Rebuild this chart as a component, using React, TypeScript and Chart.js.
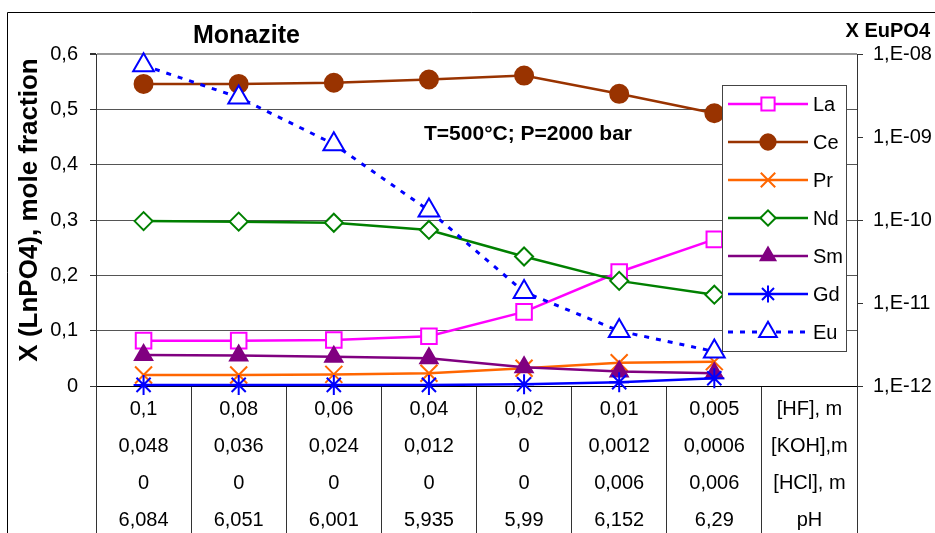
import React, { useEffect, useRef } from "react";
import { Chart, registerables } from "chart.js";
import { drawPoint } from "chart.js/helpers";

Chart.register(...registerables);

// ---- data ----
const hfRow = ["0,1", "0,08", "0,06", "0,04", "0,02", "0,01", "0,005", "[HF], m"];
const kohRow = ["0,048", "0,036", "0,024", "0,012", "0", "0,0012", "0,0006", "[KOH],m"];
const hclRow = ["0", "0", "0", "0", "0", "0,006", "0,006", "[HCl], m"];
const phRow = ["6,084", "6,051", "6,001", "5,935", "5,99", "6,152", "6,29", "pH"];

const laValues = [0.082, 0.082, 0.083, 0.09, 0.134, 0.206, 0.265];
const ceValues = [0.546, 0.546, 0.548, 0.554, 0.561, 0.528, 0.493];
const prValues = [0.02, 0.02, 0.021, 0.023, 0.032, 0.042, 0.044];
const ndValues = [0.298, 0.297, 0.295, 0.282, 0.234, 0.19, 0.165];
const smValues = [0.056, 0.055, 0.053, 0.05, 0.034, 0.026, 0.023];
const gdValues = [0.002, 0.002, 0.002, 0.002, 0.003, 0.007, 0.014];
const euValues = [7.3e-9, 3.0e-9, 8.2e-10, 1.3e-10, 1.36e-11, 4.6e-12, 2.6e-12];

const yTickValues = [0, 0.1, 0.2, 0.3, 0.4, 0.5, 0.6];
const y2TickValues = [1e-12, 1e-11, 1e-10, 1e-9, 1e-8];

const titleText = "Monazite";
const rightTitleText = "X EuPO4";
const leftTitleText = "X (LnPO4), mole fraction";
const noteText = "T=500°C; P=2000 bar";

const FONT = "'Liberation Sans', Arial, sans-serif";

const categoryLabels = hfRow.map((_, i) => [hfRow[i], kohRow[i], hclRow[i], phRow[i]]);

export default function App() {
  const ref = useRef<HTMLCanvasElement | null>(null);

  useEffect(() => {
    const canvas = ref.current;
    if (!canvas) return;

    const mk = (
      label: string,
      data: number[],
      color: string,
      pointStyle: string,
      radius: number,
      filled: boolean,
      order: number,
      extra: any = {}
    ) => ({
      label,
      data,
      borderColor: color,
      backgroundColor: filled ? color : "#ffffff",
      pointBackgroundColor: filled ? color : "#ffffff",
      pointBorderColor: color,
      pointStyle,
      pointRadius: radius,
      pointBorderWidth: 2,
      borderWidth: 2.5,
      tension: 0,
      clip: false,
      order,
      yAxisID: "y",
      ...extra,
    });

    const datasets: any[] = [
      mk("La", laValues, "#FF00FF", "rect", 11, false, 6),
      mk("Ce", ceValues, "#993300", "circle", 9, true, 5),
      mk("Pr", prValues, "#FF6600", "crossRot", 12, false, 4),
      mk("Nd", ndValues, "#008000", "rectRot", 9, false, 3),
      mk("Sm", smValues, "#800080", "triangle", 10, true, 2),
      mk("Gd", gdValues, "#0000FF", "star", 10, false, 1),
      mk("Eu", euValues, "#0000FF", "triangle", 12, false, 0, {
        yAxisID: "y2",
        borderDash: [5, 7],
        borderWidth: 3,
      }),
    ];

    const decorPlugin = {
      id: "decor",
      beforeDraw(chart: any) {
        const ctx = chart.ctx;
        ctx.save();
        ctx.fillStyle = "#ffffff";
        ctx.fillRect(0, 0, chart.width, chart.height);
        ctx.strokeStyle = "#000000";
        ctx.lineWidth = 1;
        ctx.beginPath();
        ctx.moveTo(7.5, chart.height);
        ctx.lineTo(7.5, 12.5);
        ctx.lineTo(chart.width, 12.5);
        ctx.stroke();
        ctx.restore();
      },
      afterDatasetsDraw(chart: any) {
        const ctx = chart.ctx;
        ctx.save();
        // legend box
        const bx = 722.5, by = 85.5, bw = 124, bh = 266;
        ctx.fillStyle = "#ffffff";
        ctx.fillRect(bx, by, bw, bh);
        ctx.strokeStyle = "#444444";
        ctx.lineWidth = 1;
        ctx.strokeRect(bx, by, bw, bh);
        chart.data.datasets.forEach((ds: any, i: number) => {
          const y = 104 + i * 38;
          ctx.save();
          ctx.strokeStyle = ds.borderColor;
          ctx.lineWidth = ds.borderWidth;
          ctx.setLineDash(ds.borderDash || []);
          ctx.beginPath();
          ctx.moveTo(728, y);
          ctx.lineTo(808, y);
          ctx.stroke();
          ctx.setLineDash([]);
          ctx.fillStyle = ds.pointBackgroundColor;
          ctx.strokeStyle = ds.pointBorderColor;
          ctx.lineWidth = ds.pointBorderWidth;
          drawPoint(ctx, {
            pointStyle: ds.pointStyle,
            radius: ds.pointRadius * 0.85,
            rotation: 0,
            borderWidth: ds.pointBorderWidth,
          } as any, 768, y);
          ctx.restore();
          ctx.fillStyle = "#000000";
          ctx.font = `20px ${FONT}`;
          ctx.textAlign = "left";
          ctx.textBaseline = "middle";
          ctx.fillText(ds.label, 813, y + 1);
        });
        ctx.restore();
      },
      afterDraw(chart: any) {
        const ctx = chart.ctx;
        ctx.save();
        ctx.fillStyle = "#000000";
        ctx.textBaseline = "alphabetic";
        ctx.font = `bold 25px ${FONT}`;
        ctx.textAlign = "left";
        ctx.fillText(titleText, 193, 43);
        ctx.font = `bold 20px ${FONT}`;
        ctx.textAlign = "right";
        ctx.fillText(rightTitleText, 930, 37);
        ctx.font = `bold 21px ${FONT}`;
        ctx.textAlign = "left";
        ctx.fillText(noteText, 424, 140);
        ctx.translate(37, 210);
        ctx.rotate(-Math.PI / 2);
        ctx.font = `bold 26px ${FONT}`;
        ctx.textAlign = "center";
        ctx.fillText(leftTitleText, 0, 0);
        ctx.restore();
      },
    };

    const chart = new Chart(canvas, {
      type: "line",
      data: { labels: categoryLabels as any, datasets },
      plugins: [decorPlugin],
      options: {
        responsive: false,
        animation: false,
        devicePixelRatio: 1,
        layout: { padding: { top: 54, left: 0, right: 0, bottom: 0 } },
        plugins: {
          legend: { display: false },
          tooltip: { enabled: false },
          title: { display: false },
        },
        scales: {
          x: {
            type: "category",
            position: "bottom",
            offset: true,
            grid: {
              offset: true,
              drawOnChartArea: false,
              drawTicks: true,
              tickLength: 147,
              tickColor: "#333333",
              lineWidth: 1,
            },
            border: { display: true, color: "#000000", width: 1 },
            ticks: {
              autoSkip: false,
              maxRotation: 0,
              minRotation: 0,
              padding: -142,
              color: "#000000",
              font: { family: FONT, size: 20, lineHeight: "37px" as any },
            },
            afterFit: (s: any) => {
              s.height = 147;
            },
          },
          y: {
            type: "linear",
            position: "left",
            min: 0,
            max: 0.6,
            afterBuildTicks: (s: any) => {
              s.ticks = yTickValues.map((v) => ({ value: v }));
            },
            grid: {
              color: (c: any) => (c.tick && Math.abs(c.tick.value - 0.6) < 1e-9 ? "#999999" : "#555555"),
              lineWidth: (c: any) => (c.tick && Math.abs(c.tick.value - 0.6) < 1e-9 ? 2 : 1),
              tickColor: "#333333",
              tickLength: 6,
            },
            border: { display: true, color: "#333333", width: 1 },
            ticks: {
              padding: 12,
              color: "#000000",
              font: { family: FONT, size: 20 },
              callback: (v: any) => (Number(v) === 0 ? "0" : Number(v).toFixed(1).replace(".", ",")),
            },
            afterFit: (s: any) => {
              s.width = 96;
            },
          },
          y2: {
            type: "logarithmic",
            position: "right",
            min: 1e-12,
            max: 1e-8,
            afterBuildTicks: (s: any) => {
              s.ticks = y2TickValues.map((v) => ({ value: v }));
            },
            grid: {
              drawOnChartArea: false,
              drawTicks: true,
              tickLength: 6,
              tickColor: "#333333",
            },
            border: { display: true, color: "#333333", width: 1 },
            ticks: {
              padding: 10,
              color: "#000000",
              font: { family: FONT, size: 20 },
              callback: (v: any) => {
                const e = Math.round(Math.log10(Number(v)));
                const a = Math.abs(e);
                return "1,E" + (e < 0 ? "-" : "+") + (a < 10 ? "0" + a : String(a));
              },
            },
            afterFit: (s: any) => {
              s.width = 78;
            },
          },
        },
      } as any,
    });

    return () => chart.destroy();
  }, []);

  return (
    <div style={{ position: "fixed", left: 0, top: 0, width: 935, height: 533, background: "#fff" }}>
      <canvas ref={ref} width={935} height={533} style={{ display: "block", width: 935, height: 533 }} />
    </div>
  );
}
